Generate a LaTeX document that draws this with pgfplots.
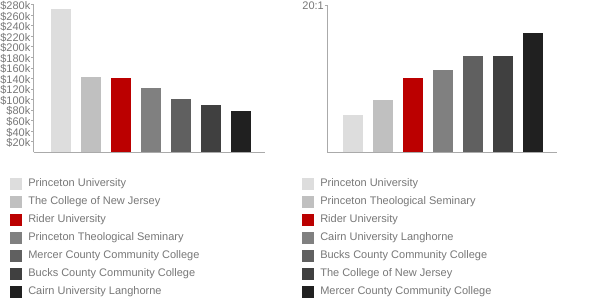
\documentclass[border=0pt]{standalone}
\usepackage{fontspec}
\setmainfont{Liberation Sans}
\usepackage{pgfplots}
\pgfplotsset{compat=1.18}
\definecolor{c1}{HTML}{DDDDDD}
\definecolor{c2}{HTML}{C0C0C0}
\definecolor{c3}{HTML}{BB0000}
\definecolor{c4}{HTML}{808080}
\definecolor{c5}{HTML}{606060}
\definecolor{c6}{HTML}{404040}
\definecolor{c7}{HTML}{202020}
\definecolor{axgray}{HTML}{AAAAAA}
\definecolor{txtgray}{HTML}{777777}
\pgfplotsset{
  common/.style={
    scale only axis,
    anchor=south west,
    ybar,
    axis x line*=bottom,
    axis y line*=left,
    axis line style={axgray, line width=0.8bp},
    xtick=\empty,
    ymin=0,
    scaled y ticks=false,
    tick style={axgray, line width=0.8bp},
    major tick length=2.5bp,
    tick align=outside,
    ticklabel style={font=\fontsize{11bp}{13bp}\selectfont, text=txtgray, inner sep=0.5bp, yshift=-1.2bp},
    clip=false,
    legend cell align=left,
    legend image code/.code={\fill[##1] (0bp,-6bp) rectangle (12bp,6bp); \path (18.3bp,0bp);},
    legend style={draw=none, fill=none, inner sep=0pt, outer sep=0pt,
      anchor=north west, row sep=6bp,
      font=\fontsize{11bp}{13bp}\selectfont, text=txtgray,
      nodes={inner sep=0pt, outer sep=0pt}},
  },
  bb/.style={fill=#1, draw=none, bar shift=0pt, bar width=20bp},
}
\begin{document}
\begin{tikzpicture}
\path[use as bounding box] (0,0) rectangle (600bp,300bp);
\begin{axis}[common,
  at={(33.5bp,147.7bp)}, width=231.5bp, height=147.7bp,
  xmin=-0.92, xmax=6.8, ymax=280000,
  ytick={20000,40000,60000,80000,100000,120000,140000,160000,180000,200000,220000,240000,260000,280000},
  yticklabels={\$20k,\$40k,\$60k,\$80k,\$100k,\$120k,\$140k,\$160k,\$180k,\$200k,\$220k,\$240k,\$260k,\$280k},
  legend style={at={(-0.1015,-0.172)}},
]
\addplot[bb=c1] coordinates {(0,272000)};
\addplot[bb=c2] coordinates {(1,142700)};
\addplot[bb=c3] coordinates {(2,140800)};
\addplot[bb=c4] coordinates {(3,121800)};
\addplot[bb=c5] coordinates {(4,101500)};
\addplot[bb=c6] coordinates {(5,90000)};
\addplot[bb=c7] coordinates {(6,78700)};
\legend{Princeton University,The College of New Jersey,Rider University,Princeton Theological Seminary,Mercer County Community College,Bucks County Community College,Cairn University Langhorne}
\end{axis}
\begin{axis}[common,
  at={(327bp,147.7bp)}, width=229.7bp, height=147.3bp,
  xmin=-0.85, xmax=6.8, ymax=20,
  ytick={20}, yticklabels={20:1},
  legend style={at={(-0.1089,-0.1715)}},
]
\addplot[bb=c1] coordinates {(0,5.07)};
\addplot[bb=c2] coordinates {(1,7.1)};
\addplot[bb=c3] coordinates {(2,10.09)};
\addplot[bb=c4] coordinates {(3,11.13)};
\addplot[bb=c5] coordinates {(4,13.1)};
\addplot[bb=c6] coordinates {(5,13.1)};
\addplot[bb=c7] coordinates {(6,16.16)};
\legend{Princeton University,Princeton Theological Seminary,Rider University,Cairn University Langhorne,Bucks County Community College,The College of New Jersey,Mercer County Community College}
\end{axis}
\end{tikzpicture}
\end{document}
